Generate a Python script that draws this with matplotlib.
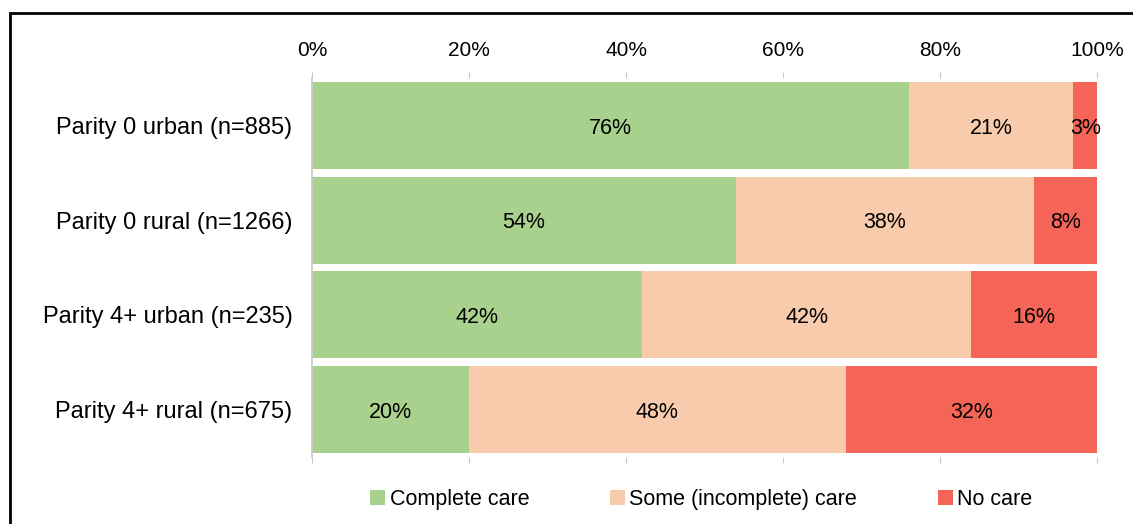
import numpy as np
import matplotlib.pyplot as plt
from matplotlib.patches import Rectangle

plt.rcParams['font.family'] = ['Liberation Sans', 'DejaVu Sans']

# ----------------------------
# Data
# ----------------------------
groups = ["Parity 0 urban (n=885)", "Parity 0 rural (n=1266)",
          "Parity 4+ urban (n=235)", "Parity 4+ rural (n=675)"]
complete_care = [76, 54, 42, 20]
some_care = [21, 38, 42, 48]
no_care = [3, 8, 16, 32]
series_names = ["Complete care", "Some (incomplete) care", "No care"]
colors = ["#A9D18E", "#F8CBAD", "#F46558"]
xticks = [0, 20, 40, 60, 80, 100]

# ----------------------------
# Plot
# ----------------------------
fig = plt.figure(figsize=(11.33, 5.24), dpi=100)
ax = fig.add_axes([0.2754, 0.128, 0.6928, 0.723])

y = np.arange(len(groups))
left = np.zeros(len(groups))
for vals, name, col in zip([complete_care, some_care, no_care], series_names, colors):
    vals = np.array(vals, dtype=float)
    bars = ax.barh(y, vals, left=left, height=0.92, color=col, label=name)
    for b, v in zip(bars, vals):
        ax.text(b.get_x() + b.get_width() / 2, b.get_y() + b.get_height() / 2 + 0.03,
                f"{v:.0f}%", ha="center", va="center", fontsize=15.5, color="black")
    left += vals

ax.set_xlim(0, 100)
ax.set_ylim(len(groups) - 0.5, -0.5)
ax.set_yticks(y)
ax.set_yticklabels(groups, fontsize=17)
ax.set_xticks(xticks)
ax.set_xticklabels([f"{t}%" for t in xticks], fontsize=15)

# Excel style axes: labels on top, ticks top and bottom, grey left line
ax.tick_params(axis="x", which="both", top=True, bottom=True, labeltop=True,
               labelbottom=False, direction="out", length=4, color="#C8C8C8", pad=9)
ax.tick_params(axis="y", length=0, pad=14)
for s in ["top", "bottom", "right"]:
    ax.spines[s].set_visible(False)
ax.spines["left"].set_color("#C8C8C8")
ax.spines["left"].set_linewidth(1.2)

# Legend
handles, labels = ax.get_legend_handles_labels()
fig.legend(handles, labels, loc="center", bbox_to_anchor=(0.619, 0.047), ncol=3,
           frameon=False, fontsize=15.5, handlelength=0.7, handleheight=0.7,
           handletextpad=0.2, columnspacing=3.75)

# Outer frame (cut at right and bottom like the source)
fig.patches.append(Rectangle((0.0085, -0.1), 1.2, 1.075, transform=fig.transFigure,
                             fill=False, edgecolor="black", linewidth=2))

fig.savefig("out.png", dpi=100)
